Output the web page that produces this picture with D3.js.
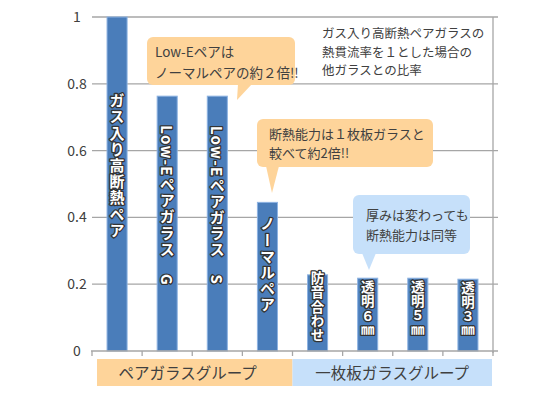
<!DOCTYPE html>
<html>
<head>
<meta charset="utf-8">
<script src="https://cdn.jsdelivr.net/npm/d3@7"></script>
<style>
  body { margin: 0; background: #fff; }
  text { font-family: "Noto Sans CJK JP", "Noto Sans", sans-serif; }
</style>
</head>
<body>
<svg id="chart" width="560" height="396"></svg>
<script>
// values (ratio vs. gas-filled insulated pair glass)
const categories = ["ガス入り高断熱ペア", "Low-Eペアガラス　G", "Low-Eペアガラス　S", "ノーマルペア",
                    "防音合わせ", "透明６㎜", "透明５㎜", "透明３㎜"];
const values = [1.0, 0.763, 0.763, 0.445, 0.228, 0.218, 0.218, 0.215];
const yTicks = [0, 0.2, 0.4, 0.6, 0.8, 1];
const groupNames = ["ペアガラスグループ", "一枚板ガラスグループ"];
const groupSpans = [[0, 4], [4, 8]];
const noteLines = ["ガス入り高断熱ペアガラスの", "熱貫流率を１とした場合の", "他ガラスとの比率"];

const svg = d3.select("#chart");
const plotLeft = 92, plotRight = 493, plotTop = 17, plotBottom = 351;
const textColor = "#404040";

const x = d3.scaleBand()
  .domain(categories)
  .range([plotLeft, plotRight])
  .paddingInner(0.6)
  .paddingOuter(0.3);
const step = x.step();
const slot = i => plotLeft + i * step;

const y = d3.scaleLinear().domain([0, 1]).range([plotBottom, plotTop]);

// gridlines (they run a little past the right axis like tick marks)
svg.append("g").selectAll("line")
  .data(yTicks.filter(d => d > 0))
  .enter().append("line")
  .attr("x1", plotLeft).attr("x2", plotRight + 5)
  .attr("y1", d => y(d)).attr("y2", d => y(d))
  .attr("stroke", "#a6a6a6").attr("stroke-width", 1.3);

// right frame line
svg.append("line")
  .attr("x1", plotRight).attr("x2", plotRight)
  .attr("y1", y(1)).attr("y2", plotBottom + 2)
  .attr("stroke", "#a6a6a6").attr("stroke-width", 1.3);

// y labels
svg.append("g").selectAll("text")
  .data(yTicks)
  .enter().append("text")
  .attr("x", 77)
  .attr("y", d => y(d) + 5)
  .attr("text-anchor", "middle")
  .attr("font-size", 14)
  .attr("fill", textColor)
  .text(d => d === 0 ? "0" : d === 1 ? "1" : d3.format(".1f")(d));

// bars
svg.append("g").selectAll("rect")
  .data(values)
  .enter().append("rect")
  .attr("x", (d, i) => x(categories[i]))
  .attr("y", d => y(d))
  .attr("width", x.bandwidth())
  .attr("height", d => plotBottom - y(d))
  .attr("fill", "#4a7dba")
  .attr("stroke", "#8db3e2")
  .attr("stroke-width", 1);

// x axis baseline with slot ticks
svg.append("line")
  .attr("x1", plotLeft - 1).attr("x2", plotRight + 5)
  .attr("y1", plotBottom).attr("y2", plotBottom)
  .attr("stroke", "#a6a6a6").attr("stroke-width", 1.3);
svg.append("g").selectAll("line")
  .data(d3.range(categories.length + 1))
  .enter().append("line")
  .attr("x1", i => slot(i)).attr("x2", i => slot(i))
  .attr("y1", plotBottom).attr("y2", plotBottom + 5)
  .attr("stroke", "#a6a6a6").attr("stroke-width", 1.3);

// vertical labels inside bars, nudged a little toward the upper part of tall bars
svg.append("g").selectAll("text")
  .data(values)
  .enter().append("text")
  .attr("x", (d, i) => x(categories[i]) + x.bandwidth() / 2)
  .attr("y", d => (y(d) + plotBottom) / 2 - Math.min(18, (plotBottom - y(d)) * 0.08))
  .attr("text-anchor", "middle")
  .style("writing-mode", "vertical-rl")
  .attr("font-size", (d, i) => i < 4 ? 15 : 13.5)
  .attr("letter-spacing", (d, i) => i < 4 ? 1.2 : 0.8)
  .attr("font-weight", "bold")
  .attr("fill", "#fff")
  .attr("stroke", "#333")
  .attr("stroke-width", 2.6)
  .attr("stroke-linejoin", "round")
  .style("paint-order", "stroke")
  .text((d, i) => categories[i]);

// group bands under the axis
const groupFills = ["#fed49a", "#c6e0fa"];
const groups = svg.append("g");
groupSpans.forEach((s, i) => {
  const x0 = slot(s[0]) + (i === 0 ? 5 : 0);
  const x1 = slot(s[1]) - (i === 1 ? 1 : 0);
  groups.append("rect")
    .attr("x", x0).attr("y", 359)
    .attr("width", x1 - x0).attr("height", 27)
    .attr("fill", groupFills[i]);
  groups.append("text")
    .attr("x", (x0 + x1) / 2 - (i === 0 ? 7 : 0))
    .attr("y", 379)
    .attr("text-anchor", "middle")
    .attr("font-size", 15.5)
    .attr("fill", textColor)
    .text(groupNames[i]);
});

// note at top right
const note = svg.append("g");
note.append("rect").attr("x", 316).attr("y", 24).attr("width", 170).attr("height", 56).attr("fill", "#fff");
note.selectAll("text")
  .data(noteLines)
  .enter().append("text")
  .attr("x", 322)
  .attr("y", (d, i) => 38 + i * 18.5)
  .attr("font-size", 12.5)
  .attr("fill", textColor)
  .text(d => d);

// callout bubbles: rounded box plus a pointed tail
function callout(box, tail, fill, lines, tx, ty, lh, fs) {
  const g = svg.append("g");
  g.append("rect")
    .attr("x", box[0]).attr("y", box[1])
    .attr("width", box[2]).attr("height", box[3])
    .attr("rx", 6).attr("ry", 6)
    .attr("fill", fill);
  g.append("path")
    .attr("d", d3.line()(tail) + "Z")
    .attr("fill", fill);
  g.selectAll("text")
    .data(lines)
    .enter().append("text")
    .attr("x", tx)
    .attr("y", (d, i) => ty + i * lh)
    .attr("font-size", fs)
    .attr("fill", textColor)
    .text(d => d);
}

callout([147, 37, 148, 48], [[238, 84], [252, 84], [237, 100]], "#fed49a",
        ["Low-Eペアは", "ノーマルペアの約２倍!!"], 155, 57, 21, 13.5);

callout([257, 119, 176, 48], [[266, 166], [279, 166], [272, 193]], "#fed49a",
        ["断熱能力は１枚板ガラスと", "較べて約2倍!!"], 269, 139, 19, 13);

callout([353, 195, 117, 59], [[362, 253], [376, 253], [369, 270]], "#c6e0fa",
        ["厚みは変わっても", "断熱能力は同等"], 366, 220, 20, 13);
</script>
</body>
</html>
